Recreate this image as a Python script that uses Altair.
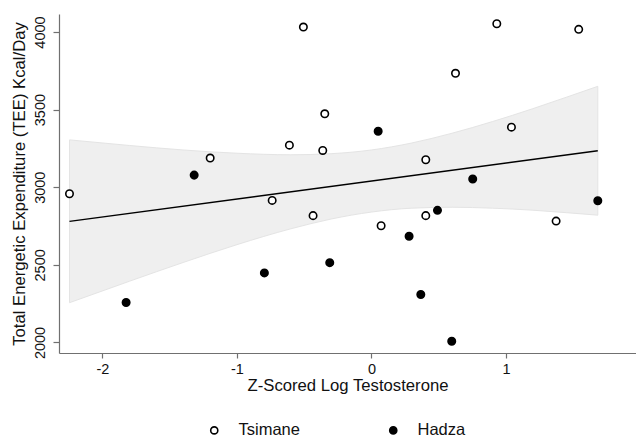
import altair as alt
import pandas as pd

tsimane_x = [-2.245, -1.199, -0.506, -0.347, -0.61, -0.362, 0.404, -0.738, 0.932, 1.541, 0.625, 1.041, -0.434, 0.072, 0.404, 1.373]
tsimane_y = [2958, 3188, 4032, 3473, 3271, 3237, 3177, 2915, 4053, 4017, 3734, 3387, 2817, 2752, 2817, 2782]
hadza_x = [-1.824, -1.318, -0.796, -0.31, 0.05, 0.28, 0.367, 0.491, 0.597, 0.753, 1.683]
hadza_y = [2257, 3078, 2448, 2514, 3361, 2684, 2309, 2851, 2008, 3053, 2913]

# Fitted line and confidence band
band_x = [-2.245, -1.8, -1.4, -1.0, -0.6, -0.3, 0.0, 0.3, 0.6, 0.9, 1.2, 1.45, 1.683]
band_lo = [2256, 2394, 2515, 2630, 2732, 2795, 2840, 2865, 2871, 2865, 2852, 2836, 2820]
band_hi = [3305, 3269, 3240, 3219, 3209, 3216, 3240, 3285, 3348, 3423, 3506, 3580, 3650]
fit_x = [-2.245, 1.683]
fit_y = [2780, 3235]

x_ticks = [-2, -1, 0, 1, 2]
y_ticks = [2000, 2500, 3000, 3500, 4000]
groups = ["Tsimane", "Hadza"]

pts = pd.DataFrame({
    "x": tsimane_x + hadza_x,
    "y": tsimane_y + hadza_y,
    "group": ["Tsimane"] * len(tsimane_x) + ["Hadza"] * len(hadza_x),
})
band = pd.DataFrame({"x": band_x, "lo": band_lo, "hi": band_hi})
fit = pd.DataFrame({"x": fit_x, "y": fit_y})

FONT = "Liberation Sans"
xscale = alt.Scale(domain=[-2.323, 1.967], nice=False, zero=False)
yscale = alt.Scale(domain=[1932, 4116], nice=False, zero=False)

xaxis = alt.Axis(values=x_ticks, title="Z-Scored Log Testosterone", grid=False,
                 tickSize=5, labelPadding=4, titlePadding=2,
                 labelExpr="'' + datum.value")
yaxis = alt.Axis(values=y_ticks, title="Total Energetic Expenditure (TEE) Kcal/Day", grid=False,
                 tickSize=6, labelAngle=270, labelAlign="center", labelBaseline="bottom",
                 labelPadding=6, titlePadding=4, labelExpr="'' + datum.value")

area = alt.Chart(band).mark_area(color="#efefef", stroke="#e4e4e4", strokeWidth=1,
                                 interpolate="monotone").encode(
    x=alt.X("x:Q", scale=xscale, axis=xaxis),
    y=alt.Y("lo:Q", scale=yscale, axis=yaxis),
    y2="hi:Q",
)

line = alt.Chart(fit).mark_line(color="black", strokeWidth=1.4).encode(
    x=alt.X("x:Q", scale=xscale),
    y=alt.Y("y:Q", scale=yscale),
)

points = alt.Chart(pts).mark_point(shape="circle", filled=True, stroke="black",
                                   strokeWidth=1.6, opacity=1, size=55).encode(
    x=alt.X("x:Q", scale=xscale),
    y=alt.Y("y:Q", scale=yscale),
    fill=alt.Fill("group:N",
                  scale=alt.Scale(domain=groups, range=["white", "black"]),
                  legend=alt.Legend(title=None, orient="none", direction="horizontal",
                                    legendX=147, legendY=408, columns=2,
                                    columnPadding=85, labelOffset=16,
                                    symbolStrokeColor="black", symbolStrokeWidth=1.6,
                                    symbolSize=50, labelFontSize=16.5, labelFont=FONT,
                                    labelColor="#111")),
)

chart = alt.layer(area, line, points).properties(
    width=577, height=339,
    padding={"left": 51, "top": 6, "right": 0, "bottom": 95},
    autosize=alt.AutoSizeParams(type="none"),
).configure_view(stroke=None).configure_axis(
    domainColor="#707070", tickColor="#707070", domainWidth=1.2, tickWidth=1.2,
    labelFont=FONT, titleFont=FONT, labelFontSize=14.5, titleFontSize=16.7,
    labelColor="#111", titleColor="#111", titleFontWeight="normal",
)

chart.save("out.html", embed_options={"renderer": "svg", "actions": False})
